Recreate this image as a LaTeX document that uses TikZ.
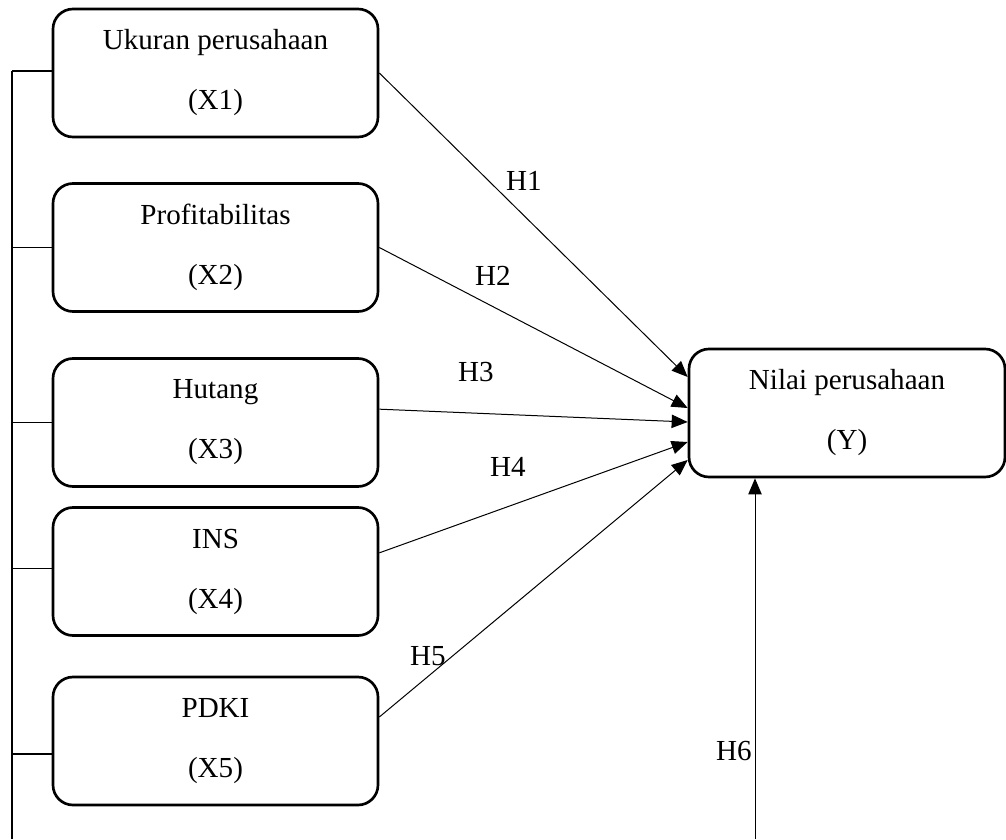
\documentclass[tikz,border=0pt]{standalone}
\usepackage{fontspec}
\setmainfont{Liberation Serif}
\usetikzlibrary{arrows.meta}
\tikzset{
	varbox/.style={draw, line width=2pt, rounded corners=15pt, minimum width=243.75pt,
		minimum height=96pt, inner sep=0pt, align=center, font=\fontsize{21.8}{45}\selectfont},
	path/.style={line width=0.75pt, -{Triangle[length=12pt, width=10pt]}},
	bus/.style={line width=0.8pt},
	hlabel/.style={font=\fontsize{21.8}{26}\selectfont, inner sep=0pt}
}
% box on the left, with its link to the bus line
\newcommand{\varnode}[5]{
	\node[varbox] (#1) at (215.5, #2) {#3\\(#4)};
	\coordinate (#1bus) at ([yshift=#5]#1.west);
	\draw[bus] (#1bus) -- (#1bus -| bustop);
}
\begin{document}
\begin{tikzpicture}[x=0.75pt, y=-0.75pt]
				\useasboundingbox (0,0) rectangle (1006,839);
				% bus line on the left
				\coordinate (bustop) at (12, 71);
				\coordinate (busend) at (12, 839);
				\draw[bus] (bustop) -- (busend);
				% independent variables
				\varnode{x1}{73}{Ukuran perusahaan}{X1}{1.5pt}
				\varnode{x2}{247.5}{Profitabilitas}{X2}{0pt}
				\varnode{x3}{422.5}{Hutang}{X3}{0pt}
				\varnode{x4}{571.5}{INS}{X4}{2.6pt}
				\varnode{x5}{741}{PDKI}{X5}{-9.75pt}
				% dependent variable
				\node[varbox, minimum width=237pt] (y) at (847, 413) {Nilai perusahaan\\(Y)};
				\draw[path] (x1.east) -- ([yshift=27pt]y.west);
				\draw[path] (x2.east) -- ([yshift=3.75pt]y.west);
				\draw[path] ([yshift=10pt]x3.east) -- ([yshift=-6.75pt]y.west);
				\draw[path] ([yshift=14pt]x4.east) -- ([yshift=-21.75pt]y.west);
				\draw[path] ([yshift=18pt]x5.east) -- ([yshift=-35.25pt]y.west);
				\coordinate (h6foot) at (755, 839);
				\draw[path] (h6foot) -- (h6foot |- y.south);
				% hypothesis labels
				\node[hlabel] (h1) at (524, 181) {H1};
				\node[hlabel] (h2) at (493, 276) {H2};
				\node[hlabel] (h3) at (476, 372) {H3};
				\node[hlabel] (h4) at (508, 467) {H4};
				\node[hlabel] (h5) at (428, 656) {H5};
				\node[hlabel] (h6) at (734, 751) {H6};
			\end{tikzpicture}
\end{document}
